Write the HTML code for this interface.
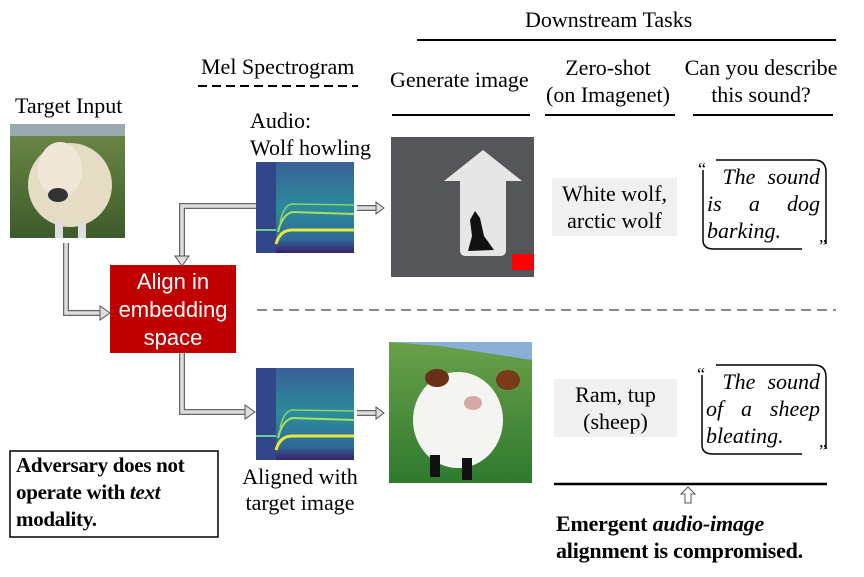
<!DOCTYPE html>
<html><head><meta charset="utf-8"><style>
body{margin:0;width:864px;height:577px;background:#fff;position:relative;overflow:hidden;font-family:"Liberation Serif",serif;color:#000}
.t{position:absolute;white-space:nowrap;font-size:22px;line-height:26px}
.c{text-align:center}
</style></head><body>
<svg width="864" height="577" style="position:absolute;left:0;top:0">
<defs>
<linearGradient id="spec" x1="0" y1="0" x2="0" y2="1">
<stop offset="0" stop-color="#3a5f9a"/><stop offset="0.5" stop-color="#2a8c9a"/><stop offset="0.85" stop-color="#306a98"/><stop offset="1" stop-color="#3a1f6a"/>
</linearGradient>
<linearGradient id="grass" x1="0" y1="0" x2="0" y2="1"><stop offset="0" stop-color="#6f8a48"/><stop offset="1" stop-color="#3d5a2a"/></linearGradient>
<linearGradient id="hill" x1="0" y1="0" x2="0" y2="1"><stop offset="0" stop-color="#6aa04a"/><stop offset="1" stop-color="#2f7a2f"/></linearGradient>
</defs>
<line x1="417" y1="40" x2="836" y2="40" stroke="#000" stroke-width="2"/>
<line x1="198" y1="86" x2="358" y2="86" stroke="#000" stroke-width="2" stroke-dasharray="9,5"/>
<line x1="392" y1="115" x2="530" y2="115" stroke="#000" stroke-width="2"/>
<line x1="545" y1="115" x2="675" y2="115" stroke="#000" stroke-width="2"/>
<line x1="693" y1="115" x2="833" y2="115" stroke="#000" stroke-width="2"/>
<line x1="257" y1="310" x2="836" y2="310" stroke="#888" stroke-width="2" stroke-dasharray="10,6"/>
<line x1="554" y1="484" x2="827" y2="484" stroke="#000" stroke-width="2.5"/>
<rect x="10" y="124" width="115" height="114" fill="url(#grass)"/>
<rect x="10" y="124" width="115" height="12" fill="#9aa8b0"/>
<ellipse cx="70" cy="185" rx="42" ry="42" fill="#e6dcc4"/>
<ellipse cx="60" cy="170" rx="22" ry="28" fill="#efe8d8"/>
<ellipse cx="58" cy="195" rx="10" ry="7" fill="#333"/>
<rect x="55" y="222" width="8" height="16" fill="#ddd"/><rect x="78" y="222" width="8" height="16" fill="#ddd"/>
<rect x="110" y="265" width="126" height="88" fill="#c00000"/>
<g>
<rect x="256" y="162" width="98" height="91" fill="url(#spec)"/>
<rect x="256" y="162" width="20" height="91" fill="#34468a"/>
<path d="M276 244 Q280 230 292 230 L354 230" stroke="#e8e83a" stroke-width="3" fill="none"/>
<path d="M278 232 Q282 215 292 212 L354 214" stroke="#a8e05a" stroke-width="2" fill="none"/>
<path d="M280 222 Q284 205 292 204 L354 205" stroke="#8ad070" stroke-width="1.5" fill="none"/>
<line x1="256" y1="230" x2="276" y2="230" stroke="#6ad090" stroke-width="2"/>
</g>
<g>
<rect x="256" y="368" width="98" height="92" fill="url(#spec)"/>
<rect x="256" y="368" width="20" height="92" fill="#34468a"/>
<path d="M276 450 Q280 436 292 436 L354 436" stroke="#e8e83a" stroke-width="3" fill="none"/>
<path d="M278 438 Q282 421 292 418 L354 420" stroke="#a8e05a" stroke-width="2" fill="none"/>
<path d="M280 428 Q284 411 292 410 L354 411" stroke="#8ad070" stroke-width="1.5" fill="none"/>
<line x1="256" y1="436" x2="276" y2="436" stroke="#6ad090" stroke-width="2"/>
</g>
<rect x="391" y="137" width="143" height="140" fill="#55565a"/>
<path d="M483 150 L522 181 L506 181 L506 250 Q506 256 500 256 L466 256 Q460 256 460 250 L460 181 L444 181 Z" fill="#e6e6e6"/>
<path d="M470 220 L475 211 L480 218 L484 236 L494 250 L468 251 L472 236 Z" fill="#111"/>
<rect x="512" y="254" width="22" height="16" fill="#f00"/>
<rect x="389" y="342" width="143" height="141" fill="url(#hill)"/>
<path d="M389 342 L532 342 L532 360 L480 352 L440 346 Z" fill="#8ab0d8"/>
<ellipse cx="458" cy="420" rx="45" ry="48" fill="#f4f4f2"/>
<ellipse cx="437" cy="378" rx="12" ry="9" fill="#6a3018"/>
<ellipse cx="508" cy="380" rx="12" ry="10" fill="#7a3a1a"/>
<ellipse cx="473" cy="403" rx="9" ry="7" fill="#d8a8a8"/>
<rect x="430" y="455" width="10" height="22" fill="#111"/><rect x="462" y="458" width="10" height="22" fill="#111"/>
<rect x="552" y="178" width="125" height="58" fill="#f0f0f0"/>
<rect x="554" y="379" width="123" height="58" fill="#f0f0f0"/>
<path d="M703 170 L703 240 Q703 249 714 249 L802 249" stroke="#000" stroke-width="1.5" fill="none"/>
<path d="M716 160 L814 160 Q826 160 826 172 L826 244" stroke="#000" stroke-width="1.5" fill="none"/>
<path d="M702 375 L702 445 Q702 454 713 454 L802 454" stroke="#000" stroke-width="1.5" fill="none"/>
<path d="M716 365 L814 365 Q826 365 826 377 L826 449" stroke="#000" stroke-width="1.5" fill="none"/>
<g fill="none" stroke-linejoin="miter">
<path d="M66 243 L66 313 L100 313" stroke="#666" stroke-width="6"/>
<path d="M66 243 L66 313 L100 313" stroke="#ddd" stroke-width="3.5"/>
<path d="M256 206 L182 206 L182 256" stroke="#666" stroke-width="6"/>
<path d="M256 206 L182 206 L182 256" stroke="#ddd" stroke-width="3.5"/>
<path d="M182 353 L182 412 L245 412" stroke="#666" stroke-width="6"/>
<path d="M182 353 L182 412 L245 412" stroke="#ddd" stroke-width="3.5"/>
<path d="M357 208 L376 208" stroke="#666" stroke-width="6"/><path d="M357 208 L376 208" stroke="#ddd" stroke-width="3.5"/>
<path d="M357 413 L376 413" stroke="#666" stroke-width="6"/><path d="M357 413 L376 413" stroke="#ddd" stroke-width="3.5"/>
</g>
<g fill="#ddd" stroke="#555" stroke-width="1">
<path d="M100 306 L110 313 L100 320 Z"/>
<path d="M175 256 L182 266 L189 256 Z"/>
<path d="M245 405 L255 412 L245 419 Z"/>
<path d="M376 202 L384 208 L376 214 Z"/>
<path d="M376 407 L384 413 L376 419 Z"/>
<path d="M688 487 L695 494 L691 494 L691 503 L685 503 L685 494 L681 494 Z" fill="#fff"/>
</g>
<rect x="10" y="451" width="208" height="86" fill="none" stroke="#000" stroke-width="1.5"/>
</svg>
<div class="t" style="left:525px;top:7px">Downstream Tasks</div>
<div class="t" style="left:201px;top:54px">Mel Spectrogram</div>
<div class="t" style="left:390px;top:67px">Generate image</div>
<div class="t c" style="left:533px;top:54px;width:150px;line-height:27px">Zero-shot<br>(on Imagenet)</div>
<div class="t c" style="left:680px;top:54px;width:162px;line-height:27px">Can you describe<br>this sound?</div>
<div class="t" style="left:15px;top:93px">Target Input</div>
<div class="t" style="left:250px;top:107px;line-height:27px">Audio:<br>Wolf howling</div>
<div class="t c" style="left:108px;top:268px;width:130px;color:#fff;font-family:'Liberation Sans',sans-serif;font-size:22px;line-height:28px">Align in<br>embedding<br>space</div>
<div class="t c" style="left:225px;top:464px;width:150px">Aligned with<br>target image</div>
<div class="t c" style="left:547px;top:180px;width:135px;line-height:27px">White wolf,<br>arctic wolf</div>
<div class="t c" style="left:549px;top:381px;width:133px;line-height:27px">Ram, tup<br>(sheep)</div>
<div class="t" style="left:707px;top:163px;font-style:italic;line-height:27px;width:113px">
<div style="display:flex;justify-content:flex-end;gap:12px"><span>The</span><span>sound</span></div>
<div style="display:flex;justify-content:space-between"><span>is</span><span>a</span><span>dog</span></div>
<div>barking.</div></div>
<div class="t" style="left:706px;top:368px;font-style:italic;line-height:27px;width:114px">
<div style="display:flex;justify-content:flex-end;gap:12px"><span>The</span><span>sound</span></div>
<div style="display:flex;justify-content:space-between"><span>of</span><span>a</span><span>sheep</span></div>
<div>bleating.</div></div>
<div class="t" style="left:698px;top:156px;font-size:18px">“</div>
<div class="t" style="left:819px;top:233px;font-size:18px">”</div>
<div class="t" style="left:697px;top:361px;font-size:18px">“</div>
<div class="t" style="left:819px;top:438px;font-size:18px">”</div>
<div class="t" style="left:16px;top:452px;font-weight:bold;line-height:27px;font-size:21px;letter-spacing:-0.3px">Adversary does not<br>operate with <i>text</i><br>modality.</div>
<div class="t" style="left:556px;top:510px;font-weight:bold;line-height:27px;font-size:22px;letter-spacing:-0.2px">Emergent <i>audio-image</i><br>alignment is compromised.</div>
</body></html>
